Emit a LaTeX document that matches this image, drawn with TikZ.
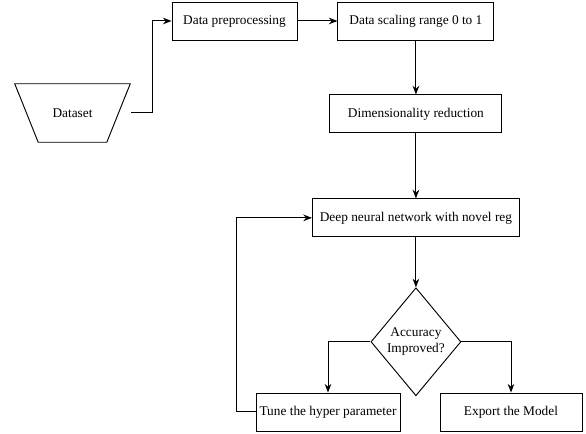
\documentclass[tikz,border=0pt]{standalone}
\usepackage{fontspec}
\setmainfont{Liberation Serif}
\usepackage{tikz}
\usetikzlibrary{arrows.meta,positioning,shapes.geometric}

\begin{document}
\begin{tikzpicture}[
  x=0.75pt,y=-0.75pt,
  n/.style={draw,line width=0.7pt,minimum height=28.5pt,inner sep=2pt,
    text height=7pt,text depth=2pt,font=\fontsize{10}{12}\selectfont},
  d/.style={draw,line width=0.7pt,diamond,inner sep=0pt,align=center,
    minimum width=67.5pt,minimum height=81pt,font=\fontsize{10}{12}\selectfont},
  t/.style={minimum width=86.25pt,minimum height=43.5pt,inner sep=0pt,
    font=\fontsize{10}{12}\selectfont},
  a/.style={-{Stealth[length=6.5pt,width=5pt]},line width=0.75pt}
]
  \useasboundingbox (0,0) rectangle (586,434);
  \node[t] (data) at (72.5,113) {Dataset};
  \draw[line width=0.7pt] (data.north west) -- (data.north east)
    -- ([xshift=-17.6pt]data.south east) -- ([xshift=17.6pt]data.south west) -- cycle;
  \node[n,minimum width=93.75pt] (prep) at (234.5,21) {Data preprocessing};
  \node[n,minimum width=117pt,right=30pt of prep] (scale) {Data scaling range 0 to 1};
  \node[n,minimum width=129pt,below=40.5pt of scale] (dim) {Dimensionality reduction};
  \node[n,minimum width=155.25pt,below=48.75pt of dim] (dnn) {Deep neural network with novel reg};
  \node[d,below=37.5pt of dnn] (acc) {Accuracy\\Improved?};
  \node[n,minimum width=108pt] (tune) at (328,412) {Tune the hyper parameter};
  \node[n,minimum width=106.5pt] (export) at (511,412) {Export the Model};
  \draw[a] ([xshift=0.75pt]data.east) -- ++(15.75pt,0) |- (prep.west);
  \draw[a] (prep) -- (scale);
  \draw[a] (scale) -- (dim);
  \draw[a] (dim) -- (dnn);
  \draw[a] (dnn) -- (acc);
  \draw[a] (acc.west) -| (tune.north);
  \draw[a] (acc.east) -| (export.north);
  \draw[a] (tune.west) -- ++(-14.25pt,0) |- (dnn.west);
\end{tikzpicture}
\end{document}
